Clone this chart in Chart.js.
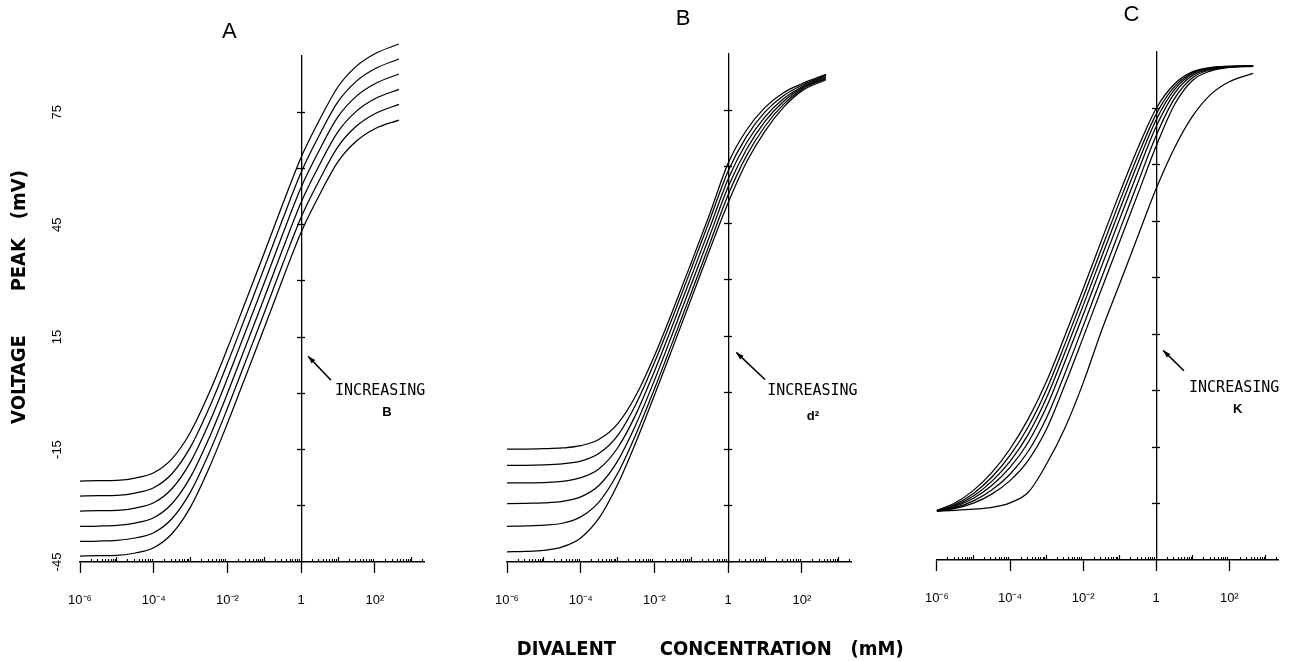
<!DOCTYPE html>
<html>
<head>
<meta charset="utf-8">
<title>Peak voltage vs divalent concentration</title>
<script src="https://cdn.jsdelivr.net/npm/chart.js@4.4.1/dist/chart.umd.min.js"></script>
<style>
  html, body { margin: 0; padding: 0; background: #fff; }
  body { width: 1294px; height: 661px; position: relative; overflow: hidden; }
  canvas { position: absolute; top: 0; }
</style>
</head>
<body>
<canvas id="chartA" width="460" height="661" style="left:0px"></canvas>
<canvas id="chartB" width="470" height="661" style="left:470px"></canvas>
<canvas id="chartC" width="389" height="661" style="left:905px"></canvas>
<script>
// divalent concentration (mM) where the curves were read, half-decade steps
const conc = [1e-6, 3.16e-6, 1e-5, 3.16e-5, 1e-4, 3.16e-4, 1e-3, 3.16e-3, 1e-2, 3.16e-2, 0.1, 0.316, 1, 3.16, 10, 31.6, 100, 450];

// panel A - increasing B
const voltA = [
  [-23.4, -23.3, -23.2, -22.6, -21.2, -17.4, -10.3, 0.0, 12.0, 24.7, 37.5, 50.5, 63.0, 73.0, 81.8, 87.3, 90.6, 93.2],
  [-27.4, -27.3, -27.2, -26.6, -25.2, -21.4, -14.3, -4.0, 8.0, 20.7, 33.5, 46.5, 59.0, 69.0, 77.8, 83.3, 86.6, 89.2],
  [-31.4, -31.3, -31.2, -30.6, -29.2, -25.4, -18.3, -8.0, 4.0, 16.7, 29.5, 42.5, 55.0, 65.0, 73.8, 79.3, 82.6, 85.2],
  [-35.5, -35.4, -35.2, -34.6, -33.2, -29.4, -22.3, -12.0, 0.0, 12.7, 25.5, 38.5, 51.0, 61.0, 69.8, 75.3, 78.6, 81.1],
  [-39.5, -39.4, -39.2, -38.6, -37.2, -33.4, -26.3, -16.0, -4.0, 8.7, 21.5, 34.5, 47.0, 57.0, 65.8, 71.3, 74.6, 77.1],
  [-43.4, -43.3, -43.2, -42.6, -41.2, -37.4, -30.3, -20.0, -8.0, 4.7, 17.5, 30.5, 43.0, 53.0, 61.8, 67.3, 70.6, 72.9]
];

// panel B - increasing d^2
const voltB = [
  [-15.0, -15.0, -14.9, -14.7, -14.1, -12.4, -8.3, -0.7, 9.8, 21.9, 34.6, 47.5, 61.0, 69.8, 75.8, 79.7, 82.1, 84.6],
  [-19.3, -19.3, -19.2, -18.9, -18.2, -16.1, -11.4, -3.0, 8.0, 20.2, 33.0, 45.9, 58.9, 68.1, 74.6, 78.9, 81.7, 84.3],
  [-24.0, -24.0, -23.9, -23.6, -22.6, -20.2, -14.7, -5.7, 5.7, 18.1, 30.9, 43.8, 56.8, 66.4, 73.3, 78.1, 81.3, 84.0],
  [-29.5, -29.4, -29.3, -28.9, -27.7, -24.6, -18.2, -8.4, 3.3, 15.9, 28.8, 41.7, 54.7, 64.7, 72.1, 77.4, 81.0, 83.7],
  [-35.5, -35.4, -35.2, -34.7, -33.0, -29.0, -21.5, -11.0, 1.0, 13.7, 26.6, 39.6, 52.6, 63.0, 70.8, 76.6, 80.6, 83.5],
  [-42.3, -42.2, -41.9, -41.0, -38.6, -33.3, -24.4, -13.1, -0.7, 12.1, 25.0, 38.0, 50.5, 61.3, 69.5, 75.8, 80.2, 83.2]
];

// panel C - increasing K
const voltC = [
  [-31.8, -29.8, -26.5, -21.8, -15.5, -7.5, 2.5, 14.5, 27.0, 39.8, 52.5, 64.5, 75.0, 81.5, 84.8, 85.9, 86.2, 86.3],
  [-31.9, -30.2, -27.3, -23.0, -17.2, -9.6, 0.3, 12.3, 24.8, 37.6, 50.3, 62.5, 73.5, 80.8, 84.5, 85.8, 86.2, 86.3],
  [-31.9, -30.5, -28.0, -24.1, -18.8, -11.6, -1.9, 10.1, 22.6, 35.4, 48.1, 60.5, 72.0, 80.0, 84.2, 85.7, 86.1, 86.3],
  [-32.0, -30.8, -28.6, -25.2, -20.4, -13.7, -4.3, 7.6, 20.1, 32.9, 45.6, 58.2, 70.2, 79.0, 83.8, 85.5, 86.1, 86.3],
  [-32.0, -31.1, -29.3, -26.4, -22.2, -16.1, -7.2, 4.5, 17.1, 29.9, 42.6, 55.3, 67.8, 77.6, 83.2, 85.3, 86.0, 86.3],
  [-32.0, -31.3, -29.9, -27.5, -23.9, -18.5, -10.2, 1.5, 14.1, 26.9, 39.6, 52.3, 65.0, 76.0, 82.5, 85.0, 85.9, 86.2],
  [-32.0, -31.8, -31.5, -31.0, -29.8, -27.0, -19.5, -10.0, 2.0, 15.8, 28.4, 41.1, 53.7, 64.5, 73.0, 78.8, 82.1, 84.3]
];

// axes
const xMin = 1e-6, xMax = 2150;
const yMin = -45, yMax = 90;
const xMajorTicks = [1e-6, 1e-4, 1e-2, 1, 100];
const xTickLabels = ['10\u207B\u2076', '10\u207B\u2074', '10\u207B\u00B2', '1', '10\u00B2'];
const xOddDecades = [1e-5, 1e-3, 0.1, 10, 1000];
const yTicks = [-30, -15, 0, 15, 30, 45, 60, 75];
const yLabelTicks = [-45, -15, 15, 45, 75];

// minor ticks 2..9 in every decade
const xMinorTicks = [];
for (let e = -6; e <= 3; e++) {
  for (let m = 2; m <= 9; m++) {
    const v = m * Math.pow(10, e);
    if (v < xMax) xMinorTicks.push(v);
  }
}

const titleFont = '"Liberation Sans Narrow", "DejaVu Sans Condensed", "Liberation Sans", sans-serif';
const monoFont = '"DejaVu Sans Mono", "Liberation Mono", monospace';
Chart.defaults.font.family = '"Liberation Sans", Arial, sans-serif';
Chart.defaults.color = '#000';

// free text and arrows, placed in data coordinates of the panel
const notesPlugin = {
  id: 'notes',
  afterDraw(chart, args, opts) {
    const {ctx} = chart;
    const sx = chart.scales.x, sy = chart.scales.y;
    ctx.save();
    ctx.fillStyle = '#000';
    ctx.strokeStyle = '#000';
    (opts.texts || []).forEach(t => {
      ctx.save();
      ctx.font = t.font;
      ctx.textAlign = t.align || 'center';
      ctx.textBaseline = 'middle';
      ctx.translate(sx.getPixelForValue(t.x), sy.getPixelForValue(t.y));
      if (t.rotate) ctx.rotate(t.rotate * Math.PI / 180);
      ctx.fillText(t.text, 0, 0);
      ctx.restore();
    });
    (opts.arrows || []).forEach(a => {
      const x0 = sx.getPixelForValue(a.from[0]), y0 = sy.getPixelForValue(a.from[1]);
      const x1 = sx.getPixelForValue(a.to[0]), y1 = sy.getPixelForValue(a.to[1]);
      const ang = Math.atan2(y1 - y0, x1 - x0);
      ctx.lineWidth = 1.6;
      ctx.beginPath();
      ctx.moveTo(x0, y0);
      ctx.lineTo(x1, y1);
      ctx.stroke();
      ctx.beginPath();
      ctx.moveTo(x1, y1);
      ctx.lineTo(x1 - 8 * Math.cos(ang - 0.32), y1 - 8 * Math.sin(ang - 0.32));
      ctx.lineTo(x1 - 8 * Math.cos(ang + 0.32), y1 - 8 * Math.sin(ang + 0.32));
      ctx.closePath();
      ctx.fill();
    });
    ctx.restore();
  }
};

function makePanel(canvasId, curves, cfg) {
  const datasets = curves.map(v => ({
    data: conc.map((c, i) => ({x: c, y: v[i]})),
    borderColor: '#000',
    borderWidth: 1.25,
    pointRadius: 0,
    fill: false,
    cubicInterpolationMode: 'monotone',
    clip: false,
    xAxisID: 'x',
    yAxisID: 'y'
  }));

  const scales = {
    x: {
      type: 'logarithmic', min: xMin, max: xMax, position: 'bottom',
      afterBuildTicks: s => { s.ticks = xMajorTicks.map(v => ({value: v})); },
      afterFit: s => { s.height = 50; },
      border: {display: true, color: '#000', width: 1.6},
      grid: {display: true, drawOnChartArea: false, drawTicks: true, tickLength: 11, tickColor: '#000', tickWidth: 1.3, lineWidth: 1},
      ticks: {
        autoSkip: false, maxRotation: 0, padding: 20, color: '#000',
        font: {size: 13},
        callback: (v, i) => xTickLabels[i] ?? ''
      }
    },
    xm: {
      type: 'logarithmic', min: xMin, max: xMax, position: {y: yMin},
      afterBuildTicks: s => { s.ticks = xMinorTicks.map(v => ({value: v})); },
      border: {display: false},
      grid: {drawOnChartArea: false, tickLength: -3, tickColor: '#000', tickWidth: 1.1},
      ticks: {display: false}
    },
    xd: {
      type: 'logarithmic', min: xMin, max: xMax, position: {y: yMin},
      afterBuildTicks: s => { s.ticks = xOddDecades.map(v => ({value: v})); },
      border: {display: false},
      grid: {drawOnChartArea: false, tickLength: -5, tickColor: '#000', tickWidth: 1.2},
      ticks: {display: false}
    },
    y: {
      type: 'linear', min: yMin, max: yMax, position: {x: 1},
      afterBuildTicks: s => { s.ticks = yTicks.map(v => ({value: v})); },
      border: {display: true, color: '#000', width: 1.3, dash: cfg.axisDash || []},
      grid: {drawOnChartArea: false, tickLength: 4, tickColor: '#000', tickWidth: 1.3},
      ticks: {display: false}
    },
    yr: {
      type: 'linear', min: yMin, max: yMax, position: {x: 1},
      afterBuildTicks: s => { s.ticks = yTicks.map(v => ({value: v})); },
      border: {display: false},
      grid: {drawOnChartArea: false, tickLength: -4, tickColor: '#000', tickWidth: 1.3},
      ticks: {display: false}
    }
  };

  if (cfg.leftLabels) {
    scales.yl = {
      type: 'linear', min: yMin, max: yMax, position: 'left',
      afterBuildTicks: s => { s.ticks = yLabelTicks.map(v => ({value: v})); },
      afterFit: s => { s.width = 72; },
      border: {display: false},
      grid: {display: false, drawTicks: false},
      ticks: {minRotation: 90, maxRotation: 90, crossAlign: 'center', padding: 13, color: '#000', font: {size: 13}}
    };
  }

  return new Chart(document.getElementById(canvasId), {
    type: 'line',
    data: {datasets},
    options: {
      responsive: false,
      animation: false,
      layout: {padding: cfg.padding},
      plugins: {
        legend: {display: false},
        tooltip: {enabled: false},
        notes: {texts: cfg.texts, arrows: cfg.arrows}
      },
      scales
    },
    plugins: [notesPlugin]
  });
}

makePanel('chartA', voltA, {
  leftLabels: true,
  padding: {left: 8, right: 36, top: 56, bottom: 49},
  texts: [
    {text: 'A', x: 0.0112, y: 96.5, font: '22px "Liberation Sans", sans-serif'},
    {text: 'INCREASING', x: 8.3, y: 0.5, align: 'left', font: '15px ' + monoFont},
    {text: 'B', x: 214, y: -5.1, font: 'bold 13px "Liberation Sans", sans-serif'},
    {text: 'VOLTAGE       PEAK   (mV)', x: 2.37e-8, y: 25.7, rotate: -90, font: 'bold 20px ' + titleFont}
  ],
  arrows: [{from: [6.46, 3.5], to: [1.55, 9.9]}]
});

makePanel('chartB', voltB, {
  padding: {left: 37, right: 89, top: 54, bottom: 49},
  texts: [
    {text: 'B', x: 0.060, y: 99.3, font: '22px "Liberation Sans", sans-serif'},
    {text: 'INCREASING', x: 11.5, y: 0.3, align: 'left', font: '15px ' + monoFont},
    {text: 'd\u00B2', x: 200, y: -6.4, font: 'bold 13px "Liberation Sans", sans-serif'},
    {text: 'DIVALENT       CONCENTRATION   (mM)', x: 0.325, y: -68.2, font: 'bold 20px ' + titleFont}
  ],
  arrows: [{from: [10, 3.5], to: [1.66, 10.7]}]
});

makePanel('chartC', voltC, {
  axisDash: [10, 3, 2, 3],
  padding: {left: 30, right: 16, top: 52, bottom: 51},
  texts: [
    {text: 'C', x: 0.209, y: 99.9, font: '22px "Liberation Sans", sans-serif'},
    {text: 'INCREASING', x: 7.9, y: 0.8, align: 'left', font: '15px ' + monoFont},
    {text: 'K', x: 170, y: -5.1, font: 'bold 13px "Liberation Sans", sans-serif'}
  ],
  arrows: [{from: [5.75, 5.3], to: [1.55, 10.7]}]
});
</script>
</body>
</html>
